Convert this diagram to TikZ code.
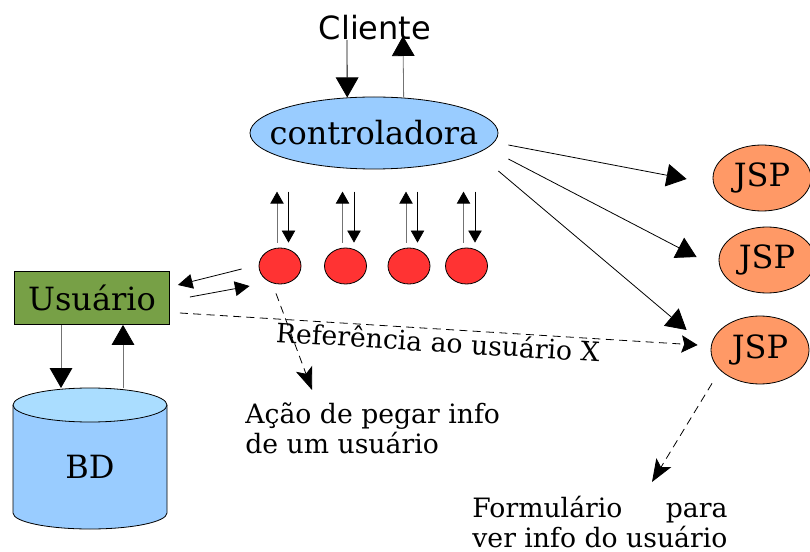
\documentclass[tikz,border=0pt]{standalone}
\usepackage{fontspec}
\setmainfont{DejaVu Serif}
\newfontfamily\sansf{DejaVu Sans}
\usetikzlibrary{shapes.geometric,arrows.meta,calc}
\definecolor{ctrlblue}{HTML}{99CCFF}
\definecolor{jsporange}{HTML}{FF9966}
\definecolor{objred}{HTML}{FF3333}
\definecolor{usrgreen}{HTML}{77A046}
\definecolor{bdbody}{HTML}{99CCFF}
\definecolor{bdtop}{HTML}{AADDFF}
\begin{document}
\begin{tikzpicture}[x=0.75pt,y=-0.75pt,
  every path/.style={line width=0.6pt},
  bigfont/.style={font=\fontsize{24}{28}\selectfont},
  clifont/.style={font=\sansf\fontsize{24}{28}\selectfont},
  notefont/.style={font=\fontsize{20}{22}\selectfont},
  oval/.style={ellipse,draw,inner sep=0pt},
  big/.style={-{Triangle[length=15pt,width=17pt,color=black]}},
  mid/.style={-{Triangle[length=11pt,width=11pt,color=black]}},
  small/.style={-{Triangle[length=9pt,width=10pt,color=black]}},
  dashline/.style={dash pattern=on 6pt off 4pt,-{Stealth[length=12pt,width=13pt,inset=2pt]}},
  dashlong/.style={dash pattern=on 6pt off 4pt,-{Stealth[length=17pt,width=13pt,inset=4pt]}},
  grayline/.style={draw=black!55}
]
\useasboundingbox (0,0) rectangle (810,552);

% nodes
\node[clifont] (cli) at (375,28) {Cliente};
\node[oval,fill=ctrlblue,minimum width=186pt,minimum height=54pt,bigfont] (ctrl) at (374,133) {\makebox[0pt]{controladora}};
\node[oval,fill=objred,minimum width=31.5pt,minimum height=27pt] (r1) at (280,266) {};
\node[oval,fill=objred,minimum width=31.5pt,minimum height=27pt] (r2) at (345.5,266) {};
\node[oval,fill=objred,minimum width=31.5pt,minimum height=27pt] (r3) at (409,266) {};
\node[oval,fill=objred,minimum width=31.5pt,minimum height=27pt] (r4) at (466.5,266) {};
\node[draw,fill=usrgreen,minimum width=116.25pt,minimum height=39.75pt,inner sep=0pt,bigfont] (usr) at (92,298) {Usuário};
\node[oval,fill=jsporange,minimum width=73.5pt,minimum height=49.5pt,bigfont] (j1) at (762,178) {JSP};
\node[oval,fill=jsporange,minimum width=72pt,minimum height=49.5pt,bigfont] (j2) at (767,260) {JSP};
\node[oval,fill=jsporange,minimum width=73.5pt,minimum height=51pt,bigfont] (j3) at (760,350) {JSP};

% database cylinder
\fill[bdbody] (13,405) -- (13,513) arc[start angle=180,end angle=360,x radius=57.75pt,y radius=12pt] -- (167,405) -- cycle;
\draw (13,405) -- (13,513) arc[start angle=180,end angle=360,x radius=57.75pt,y radius=12pt] -- (167,405);
\filldraw[fill=bdtop] (90,405) ellipse[x radius=57.75pt,y radius=12.75pt];
\node[bigfont] (bd) at (90,467) {BD};
\coordinate (bdin) at (61,388);
\coordinate (bdout) at (123,388);

% texts
\node[notefont,anchor=base west,inner sep=0pt] (act) at (245,423)
  {\begin{tabular}[t]{@{}l@{}}Ação de pegar info\\de um usuário\end{tabular}};
\node[notefont,anchor=base west,inner sep=0pt] (form) at (472,517)
  {\begin{tabular}[t]{@{}l@{}}Formulário\hfill para\\ver info do usuário\end{tabular}};
\coordinate (acttip) at (312,390);
\coordinate (formtip) at (652,482);
\coordinate (cdown) at (347,40);
\coordinate (cup) at (403,36);

% Cliente <-> controladora
\draw[big] (cdown) -- (ctrl.127.6);
\draw[big,grayline] (ctrl.50.4) -- (cup);

% controladora <-> objects
\foreach \r in {r1,r2,r3,r4}{
  \draw[small,grayline] ($(\r.north)+(-3,-5)$) -- ($(\r.north)+(-3,-56)$);
  \draw[small] ($(\r.north)+(8.5,-56)$) -- ($(\r.north)+(8.5,-5)$);
}

% controladora -> JSPs
\draw[big] ($(ctrl.east)+(10,12)$) -- ($(j1.west)+(-26,1)$);
\draw[big] ($(ctrl.east)+(10,26)$) -- ($(j2.west)+(-22,-3)$);
\draw[big] ($(ctrl.east)+(0,38)$) -- ($(j3.west)+(-24,-20)$);

% Usuario <-> object
\draw[mid] ($(r1.west)+(-17,3)$) -- ($(usr.east)+(8,-13)$);
\draw[mid] ($(usr.east)+(20,-1)$) -- ($(r1.west)+(-9,20)$);

% Usuario <-> BD
\draw[big,grayline] (usr.south -| bdin) -- (bdin);
\draw[big,grayline] (bdout) -- (usr.south -| bdout);

% dashed connectors
\draw[dashline] ($(usr.east)+(10,15)$) -- node[midway,sloped,below,notefont,inner sep=1pt,solid] (ref) {Referência ao usuário X} ($(j3.west)+(-13,-5)$);
\draw[dashlong] ($(r1.south)+(-4,9)$) -- (acttip);
\draw[dashlong] ($(j3.south)+(-48,-1)$) -- (formtip);
\end{tikzpicture}
\end{document}
